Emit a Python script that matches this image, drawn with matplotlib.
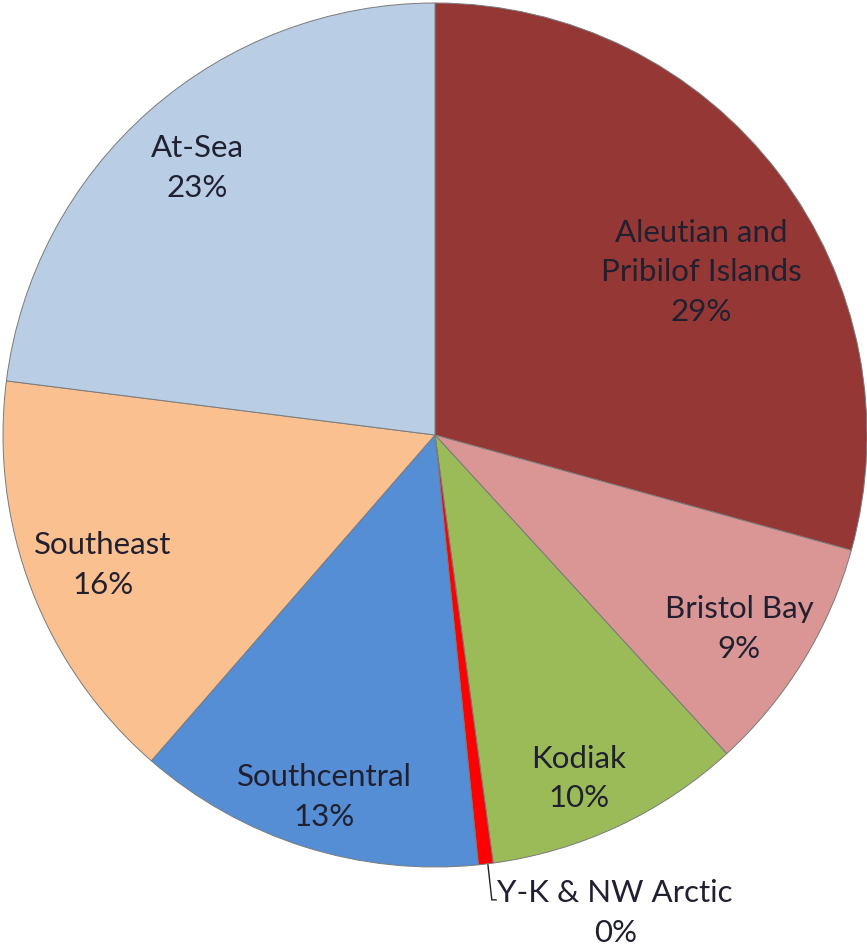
import matplotlib
matplotlib.use("Agg")
import matplotlib.pyplot as plt
import numpy as np

categories = ["Aleutian and\nPribilof Islands", "Bristol Bay", "Kodiak", "Y-K & NW Arctic",
              "Southcentral", "Southeast", "At-Sea"]
values = [29.3, 8.9, 9.65, 0.55, 13.0, 15.6, 23.0]
pct_labels = ["29%", "9%", "10%", "0%", "13%", "16%", "23%"]
colors = ["#953735", "#D99694", "#9BBB59", "#FF0000", "#558ED5", "#FAC090", "#B9CDE5"]

# label positions (data units, pie radius = 1)
label_pos = [(0.616, 0.377), (0.704, -0.449), (0.333, -0.795), (0.417, -1.106),
             (-0.257, -0.838), (-0.769, -0.301), (-0.551, 0.618)]

W, H = 867, 948
R_PX = 432
CX, CY = 435, 435
fig = plt.figure(figsize=(W / 100, H / 100), dpi=100)
ax = fig.add_axes([0, 0, 1, 1])
ax.axis("off")

wedges, _ = ax.pie(values, colors=colors, startangle=90, counterclock=False,
                   radius=1.0, center=(0, 0), frame=False,
                   wedgeprops=dict(edgecolor="#7a7a7a", linewidth=0.7))
ax.set_xlim(-CX / R_PX, (W - CX) / R_PX)
ax.set_ylim((CY - H) / R_PX, CY / R_PX)
ax.set_aspect("auto")

txt_color = "#202030"
for cat, pct, (x, y) in zip(categories, pct_labels, label_pos):
    ax.text(x, y, f"{cat}\n{pct}", ha="center", va="center", fontsize=22.5,
            family="Lato", color=txt_color, linespacing=1.5)

# leader line for tiny slice
w = wedges[3]
mid = np.deg2rad((w.theta1 + w.theta2) / 2)
x0, y0 = np.cos(mid), np.sin(mid)
ax.plot([x0 + 0.005, x0 + 0.014, x0 + 0.024], [y0 - 0.002, y0 - 0.083, y0 - 0.083],
        color="#222222", linewidth=1.0, solid_joinstyle="miter")

fig.savefig("out.png", dpi=100)
